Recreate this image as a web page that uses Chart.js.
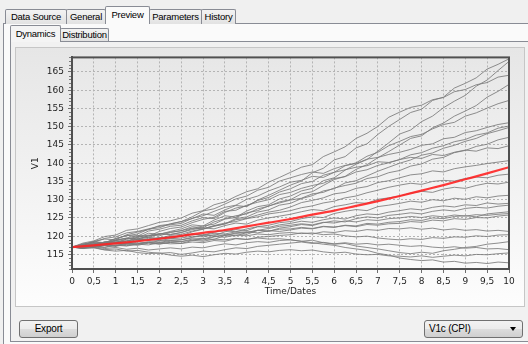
<!DOCTYPE html>
<html>
<head>
<meta charset="utf-8">
<title>Preview - Dynamics</title>
<script src="https://cdn.jsdelivr.net/npm/chart.js@4/dist/chart.umd.min.js"></script>
<style>
    html, body { margin: 0; padding: 0; }
    body {
        width: 528px; height: 344px; overflow: hidden; position: relative;
        background: #f0f0f0; color: #000;
        font-family: "Liberation Sans", Arial, sans-serif; font-size: 10px;
    }
    .page { position: absolute; box-sizing: border-box; border: 1px solid #898c95; }
    .tab {
        position: absolute; box-sizing: border-box;
        border: 1px solid #898c95; border-bottom: 0; border-radius: 2px 2px 0 0;
        background: linear-gradient(#f3f3f3, #e2e2e2);
        text-align: center; font-size: 9.5px; letter-spacing: -0.25px; white-space: nowrap;
    }
    .tab.active { z-index: 2; }
    .chart-panel {
        position: absolute; left: 15px; top: 47px; width: 510px; height: 260px;
        box-sizing: border-box; border: 1px solid #c6c6c6;
        background: linear-gradient(#e6e6e6, #fdfdfd);
    }
    #dynamics-chart { position: absolute; left: 16px; top: 48px; }
    .button {
        position: absolute; box-sizing: border-box; height: 18px;
        border: 1px solid #707070; border-radius: 3px;
        background: linear-gradient(#f2f2f2 0%, #ebebeb 50%, #dddddd 50%, #cfcfcf 100%);
        line-height: 16px; letter-spacing: -0.2px;
    }
    .arrow {
        position: absolute; right: 6px; top: 6px; width: 0; height: 0;
        border-left: 3.5px solid transparent; border-right: 3.5px solid transparent;
        border-top: 4px solid #000;
    }
</style>
</head>
<body>
    <!-- outer tab control -->
    <div class="page" style="left:3px; top:23px; width:540px; height:340px; background:#fafafa;"></div>
    <div class="tab" style="left:5px; top:9px; width:62px; height:15px; line-height:13px;">Data Source</div>
    <div class="tab" style="left:66px; top:9px; width:40px; height:15px; line-height:13px;">General</div>
    <div class="tab active" style="left:105px; top:6px; width:45px; height:18px; line-height:16px; background:#fafafa;">Preview</div>
    <div class="tab" style="left:149px; top:9px; width:53px; height:15px; line-height:13px;">Parameters</div>
    <div class="tab" style="left:201px; top:9px; width:35px; height:15px; line-height:13px;">History</div>

    <!-- inner tab control -->
    <div class="page" style="left:10px; top:41px; width:530px; height:301px; background:#f1f1f1;"></div>
    <div class="tab active" style="left:10px; top:25px; width:51px; height:17px; line-height:15px; background:#f4f4f4;">Dynamics</div>
    <div class="tab" style="left:60px; top:28px; width:49px; height:13px; line-height:12px;">Distribution</div>

    <div class="chart-panel"></div>
    <canvas id="dynamics-chart" width="508" height="258"></canvas>

    <div class="button" style="left:19px; top:320px; width:59px; text-align:center;">Export</div>
    <div class="button" style="left:424px; top:320px; width:99px; padding-left:4px;">V1c (CPI)<span class="arrow"></span></div>

<script>
// ----------------------------------------------------------------------
// Data
// ----------------------------------------------------------------------
const timeGrid = [0, 0.25, 0.5, 0.75, 1, 1.25, 1.5, 1.75, 2, 2.25, 2.5, 2.75, 3, 3.25, 3.5, 3.75, 4, 4.25, 4.5, 4.75,
    5, 5.25, 5.5, 5.75, 6, 6.25, 6.5, 6.75, 7, 7.25, 7.5, 7.75, 8, 8.25, 8.5, 8.75, 9, 9.25, 9.5, 9.75, 10];

// simulated paths (gray)
const sim01 = [117, 117.6, 118.5, 118.2, 119.4, 120.1, 120.6, 121.9, 122.3, 123.4, 124.0, 124.8, 126.1, 125.7, 127.2, 128.4, 128.1, 129.9, 131.2, 132.6, 134.0, 135.1, 137.4, 138.6, 140.9, 141.8, 144.2, 145.3, 147.9, 150.1, 152.0, 153.9, 154.8, 157.2, 158.1, 160.6, 161.9, 163.4, 165.8, 167.1, 168.6];
const sim02 = [117, 116.8, 117.9, 118.3, 118.0, 119.2, 119.6, 120.8, 120.5, 121.3, 122.0, 123.1, 122.8, 124.4, 125.6, 125.2, 126.9, 128.1, 128.6, 130.2, 131.0, 132.4, 133.1, 135.2, 136.0, 138.1, 139.7, 141.0, 143.3, 145.6, 148.0, 149.1, 151.4, 152.9, 155.2, 157.0, 158.6, 161.1, 162.8, 165.4, 167.9];
const sim03 = [117, 118.1, 118.7, 119.9, 120.3, 121.6, 122.0, 122.9, 123.8, 124.2, 125.0, 126.3, 127.0, 128.6, 129.4, 130.9, 132.2, 133.0, 134.8, 136.1, 137.5, 138.9, 139.6, 141.8, 143.1, 144.5, 146.8, 148.2, 150.1, 152.6, 154.0, 155.3, 155.9, 157.4, 158.0, 159.6, 160.2, 161.5, 162.1, 163.6, 164.1];
const sim04 = [117, 117.4, 117.1, 118.2, 118.8, 118.5, 119.7, 120.3, 120.1, 121.0, 121.5, 122.6, 122.3, 123.9, 124.8, 125.6, 126.1, 127.5, 128.2, 129.4, 130.0, 131.6, 132.2, 133.9, 135.5, 136.4, 138.3, 139.6, 141.5, 143.2, 145.0, 146.8, 147.5, 149.7, 151.0, 152.9, 154.3, 155.8, 158.1, 159.7, 161.6];
const sim05 = [117, 117.8, 118.4, 118.1, 119.3, 120.2, 120.0, 121.4, 121.9, 122.7, 123.0, 124.2, 125.1, 124.8, 126.5, 127.7, 128.3, 129.8, 130.6, 132.1, 133.0, 134.4, 135.0, 136.7, 137.5, 139.3, 140.1, 141.9, 143.0, 144.8, 146.0, 147.3, 147.9, 149.4, 150.6, 151.2, 152.9, 153.8, 155.1, 156.3, 157.2];
const sim06 = [117, 117.5, 118.6, 119.2, 119.0, 120.4, 121.1, 121.8, 122.9, 123.3, 124.0, 125.3, 126.9, 127.5, 128.8, 130.2, 131.0, 132.6, 133.4, 135.1, 136.0, 136.9, 137.6, 137.2, 138.5, 139.4, 139.9, 141.1, 141.6, 142.4, 143.0, 143.8, 144.9, 145.3, 146.7, 147.1, 148.4, 148.9, 149.8, 150.6, 151.1];
const sim07 = [117, 116.7, 117.6, 118.4, 118.9, 119.5, 120.2, 120.0, 121.3, 122.1, 122.5, 123.7, 124.6, 125.2, 126.8, 127.1, 128.5, 129.3, 130.0, 131.4, 132.0, 133.1, 133.9, 134.5, 135.8, 136.3, 137.6, 138.2, 139.4, 140.1, 141.0, 142.3, 142.9, 144.1, 144.8, 145.9, 146.5, 147.7, 148.3, 149.6, 150.2];
const sim08 = [117, 117.3, 116.9, 117.7, 118.2, 117.9, 118.8, 119.4, 119.1, 119.8, 120.0, 121.2, 121.9, 122.7, 123.4, 124.8, 125.3, 126.6, 127.2, 128.5, 129.0, 130.3, 131.1, 132.4, 133.0, 134.6, 135.2, 136.5, 137.8, 138.9, 140.0, 140.9, 142.2, 142.8, 144.1, 144.9, 146.0, 146.8, 148.1, 148.9, 149.8];
const sim09 = [117, 117.6, 117.4, 118.5, 118.3, 119.2, 119.9, 119.6, 120.7, 120.5, 121.0, 122.1, 122.8, 123.3, 124.7, 125.1, 126.4, 127.0, 128.3, 129.1, 129.9, 130.4, 131.6, 132.0, 133.2, 133.9, 134.5, 135.8, 136.3, 137.4, 138.0, 139.2, 139.8, 141.1, 141.6, 142.9, 143.5, 144.6, 145.2, 146.4, 147.1];
const sim10 = [117, 117.9, 118.3, 119.4, 119.8, 120.9, 121.3, 122.0, 122.7, 123.1, 123.5, 124.9, 125.6, 126.8, 127.9, 128.5, 130.1, 131.0, 132.4, 133.5, 134.8, 135.3, 136.4, 136.1, 137.5, 138.2, 138.9, 139.3, 140.4, 140.2, 141.0, 141.6, 141.3, 142.4, 142.1, 143.0, 143.6, 143.3, 144.2, 144.0, 144.8];
const sim11 = [117, 116.8, 117.5, 117.9, 118.6, 118.3, 119.1, 119.7, 119.4, 120.2, 120.5, 121.4, 122.0, 122.8, 123.3, 124.5, 124.9, 125.8, 126.6, 127.1, 128.0, 129.2, 129.8, 130.5, 131.6, 132.0, 133.1, 133.6, 134.7, 135.2, 136.0, 136.8, 137.1, 137.9, 137.6, 138.5, 139.0, 139.4, 139.9, 140.3, 140.7];
const sim12 = [117, 117.5, 118.1, 117.8, 118.9, 119.4, 119.2, 120.1, 120.6, 120.4, 121.0, 121.8, 122.3, 122.0, 122.9, 123.6, 123.3, 124.4, 125.0, 125.5, 126.0, 126.7, 127.3, 127.0, 128.1, 128.6, 129.2, 129.0, 130.1, 130.5, 131.0, 131.8, 132.3, 132.0, 132.9, 133.4, 133.1, 133.9, 134.5, 134.3, 134.8];
const sim13 = [117, 117.2, 116.8, 117.6, 117.3, 118.1, 117.9, 118.5, 118.3, 118.8, 119.0, 119.7, 120.3, 120.1, 121.2, 121.8, 121.5, 122.6, 123.0, 123.7, 124.0, 124.8, 125.3, 125.1, 126.2, 126.8, 127.3, 127.0, 128.1, 128.5, 129.0, 129.6, 129.3, 130.0, 129.7, 130.4, 130.1, 130.8, 130.5, 131.0, 131.2];
const sim14 = [117, 117.4, 117.9, 118.3, 118.1, 118.8, 119.2, 119.0, 119.6, 119.8, 120.0, 120.6, 120.3, 121.1, 121.5, 121.2, 122.0, 122.6, 122.4, 123.1, 123.5, 124.1, 123.8, 124.5, 125.0, 124.7, 125.6, 126.1, 125.9, 126.6, 127.0, 127.5, 127.2, 127.9, 128.3, 128.0, 128.6, 128.4, 129.1, 128.8, 129.0];
const sim15 = [117, 116.8, 117.3, 117.0, 117.6, 117.4, 117.9, 118.2, 117.9, 118.3, 118.5, 119.2, 118.9, 119.8, 120.4, 120.1, 121.0, 121.6, 121.3, 122.2, 122.6, 123.2, 122.9, 123.7, 124.2, 123.9, 124.8, 125.3, 125.0, 125.7, 126.0, 126.4, 126.1, 126.8, 127.2, 126.9, 127.6, 127.9, 127.7, 128.2, 128.5];
const sim16 = [117, 117.3, 117.8, 117.6, 118.3, 118.1, 118.7, 119.0, 118.8, 119.3, 119.5, 120.0, 119.8, 120.4, 120.2, 120.9, 121.2, 120.9, 121.5, 121.3, 121.7, 122.2, 122.0, 122.6, 122.4, 123.0, 122.8, 123.5, 123.3, 123.8, 124.0, 124.5, 124.3, 125.0, 124.8, 125.4, 125.6, 125.3, 126.1, 126.4, 126.7];
const sim17 = [117, 116.7, 117.2, 116.9, 117.5, 117.3, 117.8, 117.6, 118.2, 117.9, 118.0, 118.8, 119.3, 119.1, 120.2, 120.7, 120.5, 121.6, 122.1, 122.7, 123.0, 123.4, 123.1, 123.8, 123.6, 124.2, 123.9, 124.5, 124.3, 124.8, 125.0, 125.4, 125.1, 125.6, 125.3, 125.8, 125.5, 125.9, 125.7, 126.0, 126.2];
const sim18 = [117, 117.6, 117.3, 118.2, 118.0, 118.7, 119.1, 118.9, 119.6, 119.4, 120.0, 120.5, 120.2, 120.8, 120.6, 121.2, 121.0, 121.6, 121.4, 121.9, 122.0, 122.4, 122.1, 122.7, 122.5, 122.9, 122.6, 123.2, 123.0, 123.4, 123.5, 124.0, 123.8, 124.4, 124.2, 124.8, 124.6, 125.1, 125.0, 125.5, 125.8];
const sim19 = [117, 117.3, 117.0, 117.5, 117.2, 117.8, 117.5, 118.1, 117.8, 118.3, 118.0, 118.4, 118.2, 118.8, 118.6, 119.3, 119.1, 119.7, 119.9, 120.2, 120.4, 120.9, 120.6, 121.2, 121.0, 121.5, 121.3, 121.8, 121.6, 122.1, 122.0, 122.3, 121.9, 122.2, 121.7, 122.0, 121.6, 121.8, 121.4, 121.6, 121.3];
const sim20 = [117, 116.8, 117.1, 116.6, 116.9, 116.4, 116.7, 116.2, 116.5, 116.8, 116.5, 117.0, 116.8, 117.4, 117.9, 117.6, 118.2, 118.5, 118.3, 118.8, 119.0, 118.6, 118.9, 118.2, 117.8, 118.0, 117.3, 116.9, 116.5, 116.0, 115.5, 115.2, 115.6, 115.3, 116.0, 116.4, 116.9, 117.2, 117.8, 118.1, 118.5];
const sim21 = [117, 116.7, 116.9, 116.3, 116.5, 115.9, 116.1, 115.6, 115.3, 115.5, 115.0, 115.4, 115.9, 115.7, 116.3, 116.8, 116.6, 117.2, 117.5, 117.8, 118.1, 118.4, 118.0, 118.3, 117.9, 118.2, 117.8, 118.0, 117.6, 117.8, 117.5, 117.2, 117.4, 117.0, 116.8, 117.1, 116.7, 116.9, 116.5, 116.6, 116.3];
const sim22 = [117, 116.6, 116.8, 116.2, 115.9, 116.1, 115.5, 115.2, 115.4, 114.8, 114.5, 114.8, 114.4, 114.9, 115.3, 115.1, 115.6, 115.9, 115.7, 116.1, 116.3, 116.0, 116.2, 115.7, 115.4, 115.6, 115.1, 114.9, 115.0, 114.6, 114.5, 114.3, 114.6, 114.2, 114.5, 114.8, 114.6, 115.0, 114.9, 115.2, 115.4];
const sim23 = [117, 117.4, 117.1, 117.7, 117.5, 118.0, 117.8, 118.3, 118.1, 118.6, 118.5, 118.9, 118.6, 119.2, 119.0, 119.4, 119.1, 119.5, 119.2, 119.3, 119.0, 118.6, 118.2, 117.8, 117.5, 116.9, 116.5, 116.1, 115.3, 114.8, 114.0, 113.6, 113.3, 113.5, 112.9, 113.1, 112.6, 112.8, 112.5, 112.9, 112.7];
const sim24 = [117, 117.2, 117.7, 117.5, 118.0, 117.8, 118.4, 118.2, 118.7, 118.9, 119.0, 119.5, 119.3, 119.9, 119.7, 120.3, 120.1, 120.6, 120.4, 120.8, 121.0, 120.7, 120.9, 120.4, 120.6, 120.1, 119.8, 120.0, 119.5, 119.2, 119.0, 119.3, 119.1, 119.6, 119.4, 119.8, 119.7, 120.1, 119.9, 120.3, 120.4];
const sim25 = [117, 117.5, 118.2, 118.0, 118.8, 119.4, 119.2, 120.1, 120.6, 121.1, 121.5, 122.2, 122.0, 122.9, 123.6, 124.0, 124.8, 125.3, 126.1, 126.5, 127.0, 127.8, 128.3, 129.1, 129.6, 130.5, 131.0, 131.9, 132.6, 133.4, 134.0, 134.5, 134.2, 135.0, 135.3, 135.1, 135.8, 136.2, 136.0, 136.7, 137.0];

const simPaths = [sim01, sim02, sim03, sim04, sim05, sim06, sim07, sim08, sim09, sim10, sim11, sim12, sim13,
    sim14, sim15, sim16, sim17, sim18, sim19, sim20, sim21, sim22, sim23, sim24, sim25];

// expected path (red)
const meanTimes = [0, 0.5, 1, 1.5, 2, 2.5, 3, 3.5, 4, 4.5, 5, 5.5, 6, 6.5, 7, 7.5, 8, 8.5, 9, 9.5, 10];
const meanPath = [117.0, 117.5, 118.0, 118.6, 119.3, 120.1, 120.9, 121.7, 122.7, 123.7, 124.7, 125.9, 127.0,
    128.3, 129.6, 131.0, 132.5, 134.0, 135.6, 137.2, 138.9];

// axes
const xMin = 0, xMax = 10, xStep = 0.5;
const yMin = 111, yMax = 169, yStep = 5, yMinorStep = 1;
const xTitle = 'Time/Dates';
const yTitle = 'V1';

// ----------------------------------------------------------------------
// Chart
// ----------------------------------------------------------------------
const axisFont = { family: 'DejaVu Sans', size: 9 };
const labelColor = '#1e1e1e';

/**
 * Dark frame round the plot area plus minor ticks on the value axis
 */
const plotFrame = {
    id: 'plotFrame',
    afterDatasetsDraw(chart) {
        const { ctx, chartArea: area, scales } = chart;
        ctx.save();
        ctx.strokeStyle = '#7a7a7a';
        ctx.lineWidth = 1;
        ctx.beginPath();
        for (let v = Math.ceil(yMin); v <= yMax; v += yMinorStep) {
            if (v % yStep === 0) continue;
            const py = Math.round(scales.y.getPixelForValue(v)) + 0.5;
            ctx.moveTo(area.left - 3, py);
            ctx.lineTo(area.left, py);
        }
        ctx.stroke();
        ctx.strokeStyle = '#505050';
        ctx.lineWidth = 2;
        ctx.strokeRect(area.left, area.top, area.right - area.left, area.bottom - area.top);
        ctx.restore();
    }
};

function renderDynamicsChart() {
    const canvas = document.getElementById('dynamics-chart');

    const pathDatasets = simPaths.map((values, i) => ({
        label: 'Path ' + (i + 1),
        data: values.map((v, k) => ({ x: timeGrid[k], y: v })),
        borderColor: 'rgba(122, 122, 122, 0.85)',
        borderWidth: 1,
        pointRadius: 0,
        tension: 0,
        order: 2
    }));

    const meanDataset = {
        label: 'Mean',
        data: meanPath.map((v, k) => ({ x: meanTimes[k], y: v })),
        borderColor: 'rgba(255, 36, 36, 0.9)',
        borderWidth: 2.2,
        pointRadius: 0,
        cubicInterpolationMode: 'monotone',
        order: 1
    };

    new Chart(canvas.getContext('2d'), {
        type: 'line',
        data: { datasets: [meanDataset, ...pathDatasets] },
        options: {
            responsive: false,
            animation: false,
            devicePixelRatio: 1,
            layout: { padding: { left: 0, right: 15, top: 8, bottom: 0 } },
            plugins: {
                legend: { display: false },
                tooltip: { enabled: false }
            },
            scales: {
                x: {
                    type: 'linear',
                    min: xMin,
                    max: xMax,
                    ticks: {
                        stepSize: xStep,
                        autoSkip: false,
                        maxRotation: 0,
                        padding: 3,
                        color: labelColor,
                        font: axisFont,
                        // decimal comma as in the original
                        callback: value => String(value).replace('.', ',')
                    },
                    grid: { color: '#b4b4b4', lineWidth: 1, tickLength: 4, tickColor: '#6e6e6e' },
                    border: { display: true, color: '#505050', width: 2, dash: [2, 2] },
                    title: { display: true, text: xTitle, color: labelColor, font: axisFont, padding: { top: 0, bottom: 9 } },
                    afterFit: scale => { scale.height = 37; }
                },
                y: {
                    min: yMin,
                    max: yMax,
                    ticks: {
                        stepSize: yStep,
                        includeBounds: false,
                        padding: 4,
                        color: labelColor,
                        font: axisFont
                    },
                    grid: { color: '#b4b4b4', lineWidth: 1, tickLength: 4, tickColor: '#6e6e6e' },
                    border: { display: true, color: '#505050', width: 2, dash: [2, 2] },
                    title: { display: true, text: yTitle, color: labelColor, font: axisFont, padding: { top: 14.6, bottom: 0 } },
                    afterFit: scale => { scale.width = 56; }
                }
            }
        },
        plugins: [plotFrame]
    });
}

renderDynamicsChart();
</script>
</body>
</html>
